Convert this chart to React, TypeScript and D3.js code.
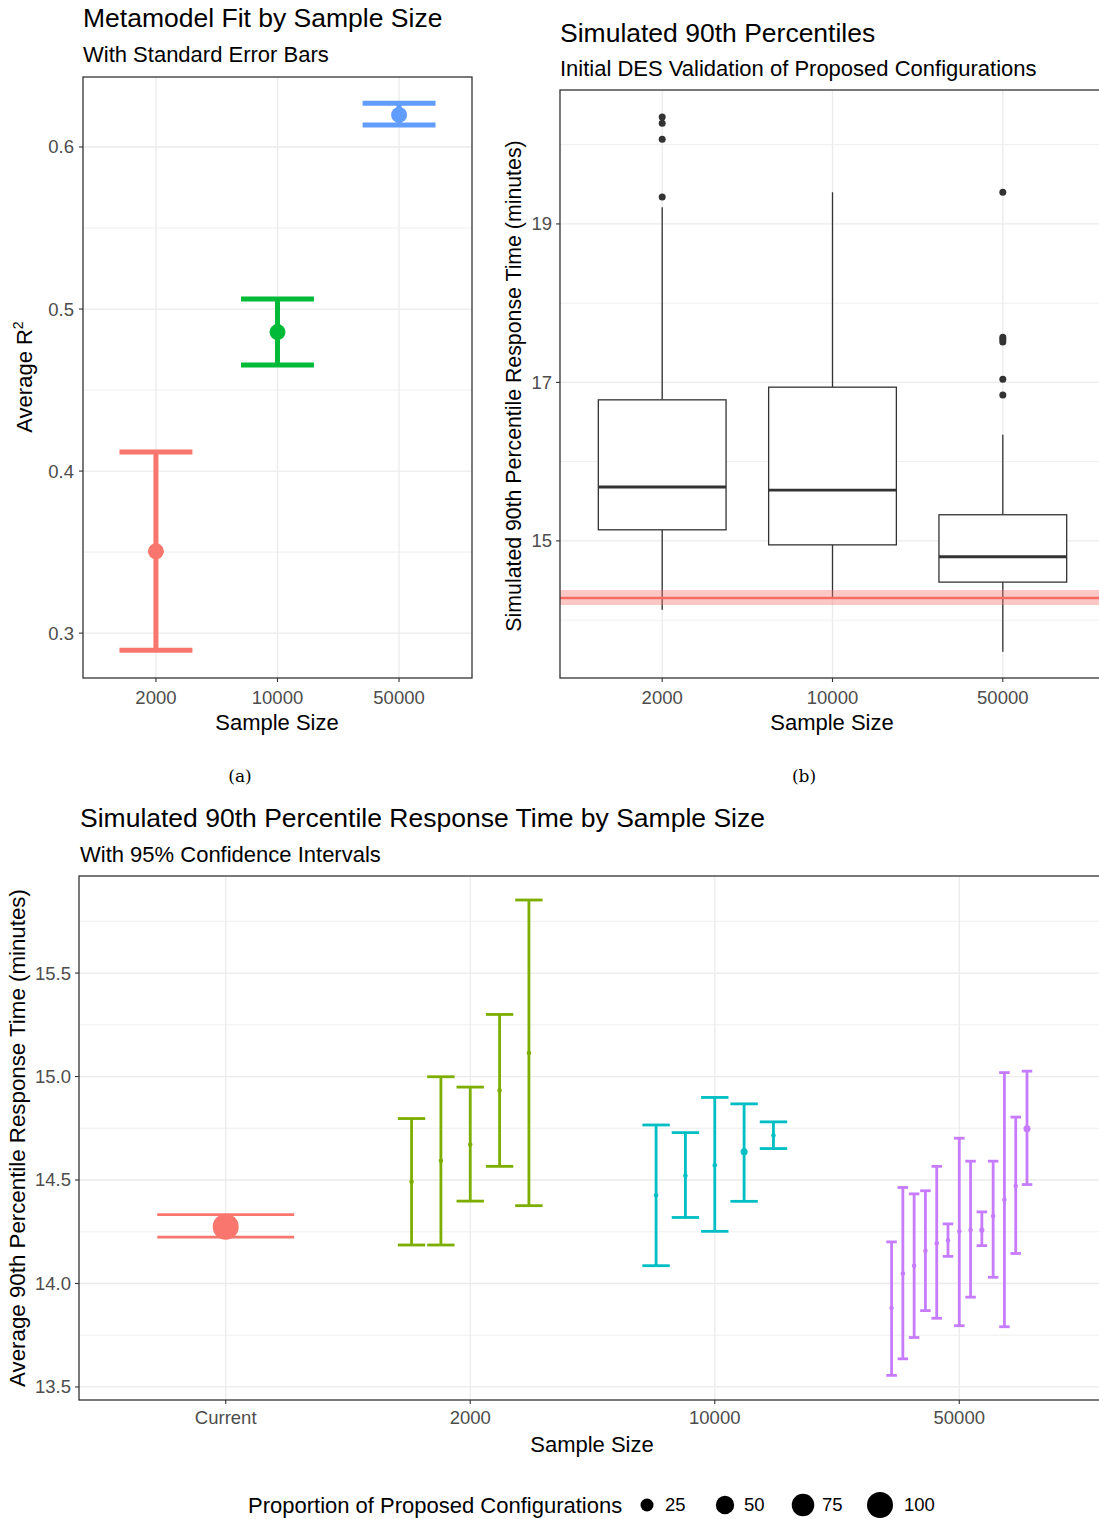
import React from 'react';
import * as d3 from 'd3';

// ---------- Panel (a): metamodel fit ----------
const metaSizes = ['2000', '10000', '50000'];
const metaMean = [0.3505, 0.4858, 0.6198];
const metaLower = [0.2895, 0.4654, 0.6136];
const metaUpper = [0.4117, 0.5062, 0.627];
const metaColors = ['#F8766D', '#00BA38', '#619CFF'];
const metaTicks = [0.3, 0.4, 0.5, 0.6];
const metaMinor = [0.35, 0.45, 0.55];

// ---------- Panel (b): boxplots ----------
const boxSizes = ['2000', '10000', '50000'];
const boxQ1 = [15.14, 14.95, 14.48];
const boxMedian = [15.68, 15.64, 14.8];
const boxQ3 = [16.78, 16.94, 15.33];
const boxLowWhisker = [14.13, 14.29, 13.6];
const boxHighWhisker = [19.21, 19.4, 16.34];
const boxOutliers = [
  [20.35, 20.27, 20.07, 19.34],
  [],
  [19.4, 17.57, 17.54, 17.51, 17.04, 16.84],
];
const currentLine = 14.28;
const currentBand = [14.19, 14.38];
const boxTicks = [15, 17, 19];
const boxMinor = [14, 16, 18, 20];

// ---------- Panel (c): CI by sample size ----------
const ciCategories = ['Current', '2000', '10000', '50000'];
const ciColors = ['#F8766D', '#7CAE00', '#00BFC4', '#C77CFF'];
const currentMean = [14.274];
const currentLow = [14.224];
const currentHigh = [14.333];
const currentProp = [100];
const s2000Mean = [14.491, 14.593, 14.672, 14.933, 15.114];
const s2000Low = [14.186, 14.186, 14.398, 14.566, 14.376];
const s2000High = [14.797, 14.999, 14.949, 15.3, 15.853];
const s2000Prop = [3, 3, 3, 3, 3];
const s10000Mean = [14.426, 14.521, 14.571, 14.636, 14.715];
const s10000Low = [14.086, 14.319, 14.252, 14.397, 14.652];
const s10000High = [14.766, 14.729, 14.899, 14.868, 14.781];
const s10000Prop = [3, 3, 3, 7.5, 3];
const s50000Mean = [13.882, 14.048, 14.086, 14.158, 14.195, 14.208, 14.252, 14.258, 14.258, 14.326, 14.405, 14.471, 14.748];
const s50000Low = [13.556, 13.636, 13.739, 13.869, 13.832, 14.131, 13.796, 13.934, 14.183, 14.03, 13.791, 14.145, 14.478];
const s50000High = [14.201, 14.464, 14.433, 14.448, 14.566, 14.288, 14.702, 14.591, 14.346, 14.591, 15.019, 14.804, 15.026];
const s50000Prop = [3, 3, 3, 3, 3, 3, 3, 3, 4, 3, 3, 3, 7.5];
const ciTicks = [13.5, 14.0, 14.5, 15.0, 15.5];
const ciMinor = [13.75, 14.25, 14.75, 15.25, 15.75];
const legendBreaks = [25, 50, 75, 100];

const FONT = '"Liberation Sans", Arial, sans-serif';
const GRID = '#EBEBEB';
const DARK = '#333333';
const TICKTXT = '#4D4D4D';
const TICK_FS = 18.5;
const AXIS_FS = 22;
const TITLE_FS = 26.5;
const SUB_FS = 22;

export default function App() {
  // Panel (a)
  const ax = d3.scaleLinear().domain([0.4, 3.6]).range([83, 472]);
  const ay = d3.scaleLinear().domain([0.2723, 0.6432]).range([678, 77]);
  // Panel (b)
  const bx = d3.scaleLinear().domain([0.4, 3.6]).range([560, 1105]);
  const by = d3.scaleLinear().domain([13.27, 20.69]).range([678, 90]);
  // Panel (c)
  const cx = d3.scaleLinear().domain([0.4, 4.6]).range([79, 1106]);
  const cy = d3.scaleLinear().domain([13.437, 15.969]).range([1400, 876]);
  const rScale = d3.scaleSqrt().domain([0, 100]).range([0, 13]);

  const groups = [
    { mean: currentMean, low: currentLow, high: currentHigh, prop: currentProp },
    { mean: s2000Mean, low: s2000Low, high: s2000High, prop: s2000Prop },
    { mean: s10000Mean, low: s10000Low, high: s10000High, prop: s10000Prop },
    { mean: s50000Mean, low: s50000Low, high: s50000High, prop: s50000Prop },
  ];

  const dodgeW = 0.6;
  const barW = 0.56;

  return (
    <svg
      width={1099}
      height={1519}
      style={{ position: 'absolute', left: 0, top: 0, display: 'block', background: '#fff' }}
      fontFamily={FONT}
    >
      <rect x={0} y={0} width={1099} height={1519} fill="#fff" />

      {/* ================= Panel (a) ================= */}
      <g>
        <text x={83} y={27} fontSize={TITLE_FS} fill="#000">Metamodel Fit by Sample Size</text>
        <text x={83} y={62} fontSize={SUB_FS} fill="#000">With Standard Error Bars</text>
        <rect x={83} y={77} width={389} height={601} fill="#fff" />
        {metaMinor.map((t) => (
          <line key={'am' + t} x1={83} x2={472} y1={ay(t)} y2={ay(t)} stroke={GRID} strokeWidth={0.8} />
        ))}
        {metaTicks.map((t) => (
          <line key={'ag' + t} x1={83} x2={472} y1={ay(t)} y2={ay(t)} stroke={GRID} strokeWidth={1.3} />
        ))}
        {metaSizes.map((s, i) => (
          <line key={'av' + s} x1={ax(i + 1)} x2={ax(i + 1)} y1={77} y2={678} stroke={GRID} strokeWidth={1.3} />
        ))}
        {metaSizes.map((s, i) => {
          const x = ax(i + 1);
          const hw = (ax(1.3) - ax(1));
          return (
            <g key={'ae' + s} stroke={metaColors[i]} strokeWidth={5}>
              <line x1={x} x2={x} y1={ay(metaLower[i])} y2={ay(metaUpper[i])} />
              <line x1={x - hw} x2={x + hw} y1={ay(metaLower[i])} y2={ay(metaLower[i])} />
              <line x1={x - hw} x2={x + hw} y1={ay(metaUpper[i])} y2={ay(metaUpper[i])} />
              <circle cx={x} cy={ay(metaMean[i])} r={8} fill={metaColors[i]} stroke="none" />
            </g>
          );
        })}
        <rect x={83} y={77} width={389} height={601} fill="none" stroke={DARK} strokeWidth={1.3} />
        {metaTicks.map((t) => (
          <g key={'at' + t}>
            <line x1={79} x2={83} y1={ay(t)} y2={ay(t)} stroke={DARK} strokeWidth={1.1} />
            <text x={74} y={ay(t)} dy="0.35em" textAnchor="end" fontSize={TICK_FS} fill={TICKTXT}>{t.toFixed(1)}</text>
          </g>
        ))}
        {metaSizes.map((s, i) => (
          <g key={'axt' + s}>
            <line x1={ax(i + 1)} x2={ax(i + 1)} y1={678} y2={682} stroke={DARK} strokeWidth={1.1} />
            <text x={ax(i + 1)} y={704} textAnchor="middle" fontSize={TICK_FS} fill={TICKTXT}>{s}</text>
          </g>
        ))}
        <text x={277} y={730} textAnchor="middle" fontSize={AXIS_FS} fill="#000">Sample Size</text>
        <text transform={`translate(32,377) rotate(-90)`} textAnchor="middle" fontSize={AXIS_FS} fill="#000">
          Average R<tspan dy={-9} fontSize={14}>2</tspan>
        </text>
        <text x={240} y={782} textAnchor="middle" fontSize={17} fontFamily='"DejaVu Serif", "Liberation Serif", serif' fill="#000">(a)</text>
      </g>

      {/* ================= Panel (b) ================= */}
      <g>
        <text x={560} y={42} fontSize={TITLE_FS} fill="#000">Simulated 90th Percentiles</text>
        <text x={560} y={76} fontSize={SUB_FS} fill="#000">Initial DES Validation of Proposed Configurations</text>
        {boxMinor.map((t) => (
          <line key={'bm' + t} x1={560} x2={1105} y1={by(t)} y2={by(t)} stroke={GRID} strokeWidth={0.8} />
        ))}
        {boxTicks.map((t) => (
          <line key={'bg' + t} x1={560} x2={1105} y1={by(t)} y2={by(t)} stroke={GRID} strokeWidth={1.3} />
        ))}
        {boxSizes.map((s, i) => (
          <line key={'bv' + s} x1={bx(i + 1)} x2={bx(i + 1)} y1={90} y2={678} stroke={GRID} strokeWidth={1.3} />
        ))}
        {boxSizes.map((s, i) => {
          const x = bx(i + 1);
          const hw = bx(1.375) - bx(1);
          return (
            <g key={'bb' + s} stroke={DARK}>
              <line x1={x} x2={x} y1={by(boxQ3[i])} y2={by(boxHighWhisker[i])} strokeWidth={1.3} />
              <line x1={x} x2={x} y1={by(boxQ1[i])} y2={by(boxLowWhisker[i])} strokeWidth={1.3} />
              <rect x={x - hw} y={by(boxQ3[i])} width={2 * hw} height={by(boxQ1[i]) - by(boxQ3[i])} fill="#fff" strokeWidth={1.3} />
              <line x1={x - hw} x2={x + hw} y1={by(boxMedian[i])} y2={by(boxMedian[i])} strokeWidth={2.8} />
              {boxOutliers[i].map((o, j) => (
                <circle key={j} cx={x} cy={by(o)} r={3.5} fill={DARK} stroke="none" />
              ))}
            </g>
          );
        })}
        <rect x={560} y={by(currentBand[1])} width={545} height={by(currentBand[0]) - by(currentBand[1])} fill="#F8766D" fillOpacity={0.4} />
        <line x1={560} x2={1105} y1={by(currentLine)} y2={by(currentLine)} stroke="#F26B64" strokeWidth={2.5} />
        <rect x={560} y={90} width={545} height={588} fill="none" stroke={DARK} strokeWidth={1.3} />
        {boxTicks.map((t) => (
          <g key={'bt' + t}>
            <line x1={556} x2={560} y1={by(t)} y2={by(t)} stroke={DARK} strokeWidth={1.1} />
            <text x={552} y={by(t)} dy="0.35em" textAnchor="end" fontSize={TICK_FS} fill={TICKTXT}>{t}</text>
          </g>
        ))}
        {boxSizes.map((s, i) => (
          <g key={'bxt' + s}>
            <line x1={bx(i + 1)} x2={bx(i + 1)} y1={678} y2={682} stroke={DARK} strokeWidth={1.1} />
            <text x={bx(i + 1)} y={704} textAnchor="middle" fontSize={TICK_FS} fill={TICKTXT}>{s}</text>
          </g>
        ))}
        <text x={832} y={730} textAnchor="middle" fontSize={AXIS_FS} fill="#000">Sample Size</text>
        <text transform={`translate(521,386) rotate(-90)`} textAnchor="middle" fontSize={21.3} fill="#000">
          Simulated 90th Percentile Response Time (minutes)
        </text>
        <text x={804} y={782} textAnchor="middle" fontSize={17} fontFamily='"DejaVu Serif", "Liberation Serif", serif' fill="#000">(b)</text>
      </g>

      {/* ================= Panel (c) ================= */}
      <g>
        <text x={80} y={827} fontSize={TITLE_FS} fill="#000">Simulated 90th Percentile Response Time by Sample Size</text>
        <text x={80} y={862} fontSize={SUB_FS} fill="#000">With 95% Confidence Intervals</text>
        {ciMinor.map((t) => (
          <line key={'cm' + t} x1={79} x2={1106} y1={cy(t)} y2={cy(t)} stroke={GRID} strokeWidth={0.8} />
        ))}
        {ciTicks.map((t) => (
          <line key={'cg' + t} x1={79} x2={1106} y1={cy(t)} y2={cy(t)} stroke={GRID} strokeWidth={1.3} />
        ))}
        {ciCategories.map((c, i) => (
          <line key={'cv' + c} x1={cx(i + 1)} x2={cx(i + 1)} y1={876} y2={1400} stroke={GRID} strokeWidth={1.3} />
        ))}
        {groups.map((g, gi) => {
          const n = g.mean.length;
          const slot = dodgeW / n;
          const capHalf = (cx(1 + barW / n) - cx(1)) / 2;
          return (
            <g key={'cgp' + gi} stroke={ciColors[gi]} strokeWidth={2.8}>
              {g.mean.map((m, j) => {
                const pos = gi + 1 + (j - (n - 1) / 2) * slot;
                const x = cx(pos);
                return (
                  <g key={j}>
                    <line x1={x} x2={x} y1={cy(g.low[j])} y2={cy(g.high[j])} />
                    <line x1={x - capHalf} x2={x + capHalf} y1={cy(g.low[j])} y2={cy(g.low[j])} />
                    <line x1={x - capHalf} x2={x + capHalf} y1={cy(g.high[j])} y2={cy(g.high[j])} />
                    <circle cx={x} cy={cy(m)} r={rScale(g.prop[j])} fill={ciColors[gi]} stroke="none" />
                  </g>
                );
              })}
            </g>
          );
        })}
        <rect x={79} y={876} width={1027} height={524} fill="none" stroke={DARK} strokeWidth={1.3} />
        {ciTicks.map((t) => (
          <g key={'ct' + t}>
            <line x1={75} x2={79} y1={cy(t)} y2={cy(t)} stroke={DARK} strokeWidth={1.1} />
            <text x={71} y={cy(t)} dy="0.35em" textAnchor="end" fontSize={TICK_FS} fill={TICKTXT}>{t.toFixed(1)}</text>
          </g>
        ))}
        {ciCategories.map((c, i) => (
          <g key={'cxt' + c}>
            <line x1={cx(i + 1)} x2={cx(i + 1)} y1={1400} y2={1404} stroke={DARK} strokeWidth={1.1} />
            <text x={cx(i + 1)} y={1424} textAnchor="middle" fontSize={TICK_FS} fill={TICKTXT}>{c}</text>
          </g>
        ))}
        <text x={592} y={1452} textAnchor="middle" fontSize={AXIS_FS} fill="#000">Sample Size</text>
        <text transform={`translate(25,1138) rotate(-90)`} textAnchor="middle" fontSize={22.3} fill="#000">
          Average 90th Percentile Response Time (minutes)
        </text>
        {/* Legend */}
        <text x={248} y={1513} fontSize={AXIS_FS} fill="#000">Proportion of Proposed Configurations</text>
        {legendBreaks.map((b, i) => {
          const keyX = [647, 725, 803, 880][i];
          const labX = [665, 744, 822, 904][i];
          return (
            <g key={'lg' + b}>
              <circle cx={keyX} cy={1505} r={rScale(b)} fill="#000" />
              <text x={labX} y={1511} fontSize={TICK_FS} fill="#000">{b}</text>
            </g>
          );
        })}
      </g>
    </svg>
  );
}
